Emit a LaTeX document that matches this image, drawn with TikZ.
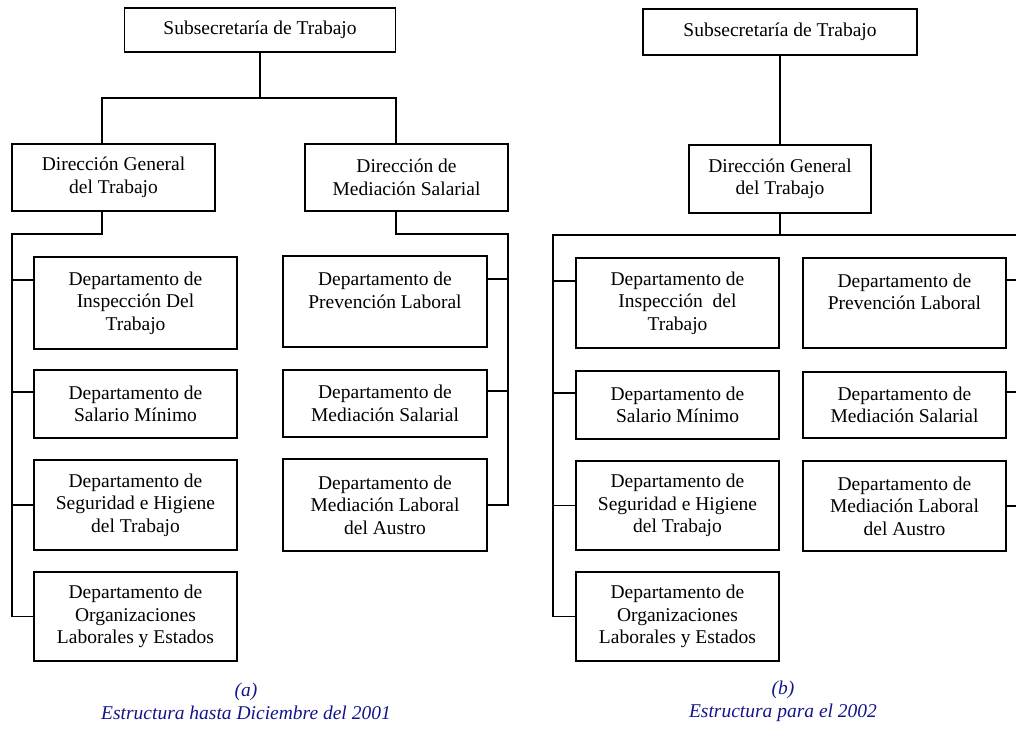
\documentclass[tikz,border=0pt]{standalone}
\usepackage{fontspec}
\setmainfont{Liberation Serif}
\usetikzlibrary{calc}
\definecolor{capblue}{RGB}{20,20,140}

\begin{document}
\begin{tikzpicture}[x=1pt,y=-1pt,line width=1.6pt,
    box/.style={draw,rectangle,align=center,inner sep=0pt,minimum width=203pt,
      font=\fontsize{19.5}{22.5}\selectfont},
    capt/.style={align=center,text=capblue,font=\fontsize{19.5}{23}\selectfont\itshape}]
  \useasboundingbox (0,0) rectangle (1016,741);

  % (a) structure until 2001
  \node[box,minimum width=271pt,minimum height=44pt] (S) at (260,30) {Subsecretaría de Trabajo};
  \node[box,minimum height=67pt] (DG) at (113.5,177.5) {Dirección General\\del Trabajo};
  \node[box,minimum height=67pt] (DM) at (406.5,177.5) {Dirección de\\Mediación Salarial};

  \node[box,minimum height=92pt] (D1) at (135.5,303) {Departamento de\\Inspección Del\\Trabajo};
  \node[box,minimum height=68pt] (D2) at (135.5,404) {Departamento de\\Salario Mínimo};
  \node[box,minimum height=90pt] (D3) at (135.5,505) {Departamento de\\Seguridad e Higiene\\del Trabajo};
  \node[box,minimum height=89pt] (D4) at (135.5,616.5) {Departamento de\\Organizaciones\\Laborales y Estados};

  \node[box,minimum width=204pt,minimum height=91pt] (P1) at (385,301.5) {Departamento de\\Prevención Laboral\\\mbox{}};
  \node[box,minimum width=204pt,minimum height=67pt] (P2) at (385,403.5) {Departamento de\\Mediación Salarial};
  \node[box,minimum width=204pt,minimum height=92pt] (P3) at (385,505) {Departamento de\\Mediación Laboral\\del Austro};

  \coordinate (ja) at (102,98);
  \coordinate (jb) at (396,98);
  \coordinate (ka) at (102,234);
  \coordinate (kb) at (396,234);
  \draw (S.south) -- (S.south |- ja);
  \draw (DG.north -| ja) -- (ja) -- (jb) -- (jb |- DM.north);
  \draw (DG.south -| ka) -- (ka) -- ++(-90,0) coordinate (la) -- (la |- D4.west) -- (D4.west);
  \draw (la |- D3.west) -- (D3.west);
  \foreach \n/\o in {D1/24,D2/23}
    \draw ($(\n.north west)+(0,\o)$) -- ++(-22,0);
  \draw (DM.south -| kb) -- (kb) -- ++(112,0) coordinate (lb) -- (lb |- P3.east) -- (P3.east);
  \foreach \n/\o in {P1/24,P2/22}
    \draw ($(\n.north east)+(0,\o)$) -- ++(21,0);

  \node[capt] (CA) at (246,701.5) {(a)\\Estructura hasta Diciembre del 2001};

  % (b) structure for 2002
  \node[box,minimum width=274pt,minimum height=46pt] (Sb) at (780,32) {Subsecretaría de Trabajo};
  \node[box,minimum width=182pt,minimum height=68pt] (DGb) at (780,179) {Dirección General\\del Trabajo};

  \node[box,minimum height=90pt] (Db1) at (677.5,303) {Departamento de\\Inspección~ del\\Trabajo};
  \node[box,minimum height=68pt] (Db2) at (677.5,405) {Departamento de\\Salario Mínimo};
  \node[box,minimum height=89pt] (Db3) at (677.5,505.5) {Departamento de\\Seguridad e Higiene\\del Trabajo};
  \node[box,minimum height=89pt] (Db4) at (677.5,616.5) {Departamento de\\Organizaciones\\Laborales y Estados};

  \node[box,minimum height=90pt] (Pb1) at (904.5,303) {Departamento de\\Prevención Laboral\\\mbox{}};
  \node[box,minimum height=66pt] (Pb2) at (904.5,405) {Departamento de\\Mediación Salarial};
  \node[box,minimum height=90pt] (Pb3) at (904.5,506) {Departamento de\\Mediación Laboral\\del Austro};

  \coordinate (kc) at (780,235);
  \coordinate (lc) at (553,235);
  \coordinate (rc) at (1016,235);
  \draw (Sb) -- (DGb);
  \draw (DGb) -- (kc);
  \draw (rc) -- (lc) -- (lc |- Db4.west) -- (Db4.west);
  \draw (lc |- Db3.west) -- (Db3.west);
  \foreach \n/\o in {Db1/24,Db2/23}
    \draw ($(\n.north west)+(0,\o)$) -- ++(-23,0);
  \foreach \n/\o in {Pb1/23,Pb2/21,Pb3/46}
    \draw ($(\n.north east)+(0,\o)$) -- ++(11,0);

  \node[capt] (CB) at (783,701.5) {(b)\\Estructura para el 2002};
\end{tikzpicture}
\end{document}
